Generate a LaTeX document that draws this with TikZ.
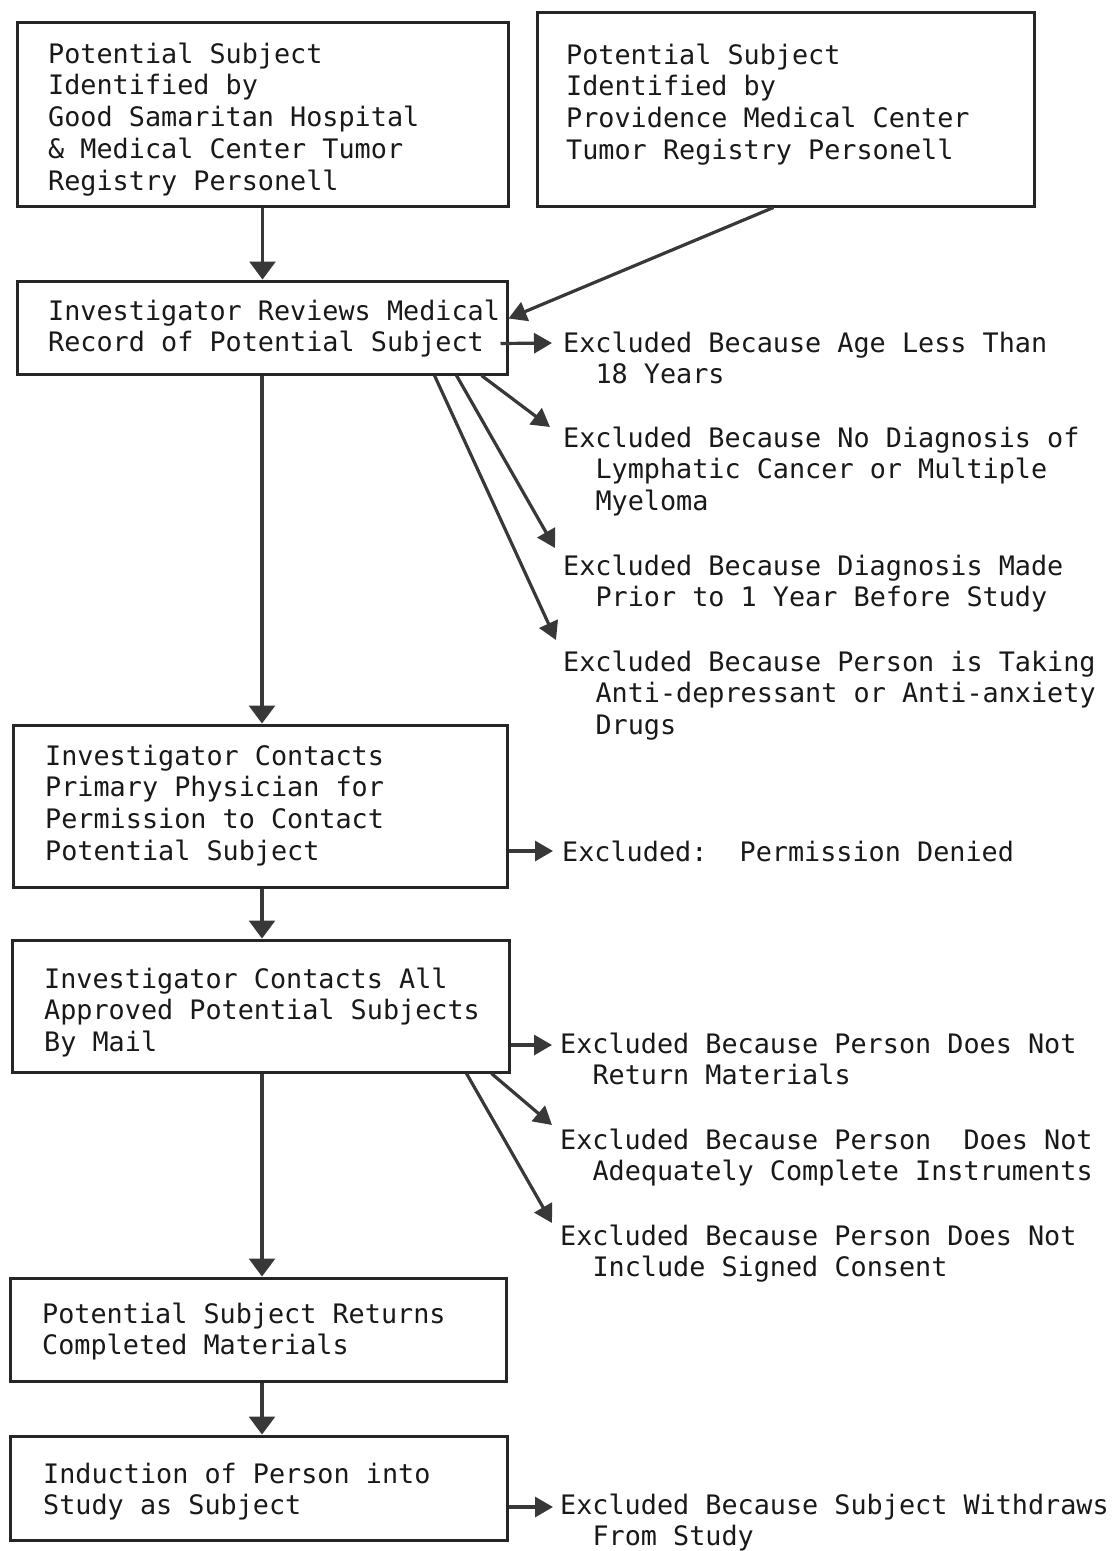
\documentclass[tikz,border=0pt]{standalone}
\usepackage{fontspec}
\setmainfont{DejaVu Sans Mono}
\usetikzlibrary{arrows.meta}
\newcommand\myind{\hspace*{32.3pt}}
\begin{document}
\begin{tikzpicture}[x=1pt,y=-1pt,
  box/.style={draw=black!85, line width=3pt, inner sep=0pt},
  lbl/.style={anchor=base west, inner sep=0pt, align=left, text=black!90,
    font=\fontsize{26.8}{31.8}\selectfont\frenchspacing},
  arr/.style={draw=black!78, line width=3.2pt, -{Triangle[length=18pt,width=20pt]}},
  varr/.style={draw=black!78, line width=3.2pt, -{Triangle[length=18pt,width=26pt]}},
]
\useasboundingbox[fill=white] (0,0) rectangle (1114,1551);

% boxes
\node[box, minimum width=491pt, minimum height=184pt] (A) at (262.5,114) {};
\node[box, minimum width=497pt, minimum height=194pt] (B) at (785.5,109) {};
\node[box, minimum width=490pt, minimum height=93pt]  (C) at (262,327.5) {};
\node[box, minimum width=494pt, minimum height=162pt] (D) at (260,806) {};
\node[box, minimum width=497pt, minimum height=132pt] (E) at (260.5,1006) {};
\node[box, minimum width=496pt, minimum height=103pt] (F) at (258,1329.5) {};
\node[box, minimum width=497pt, minimum height=104pt] (G) at (258.5,1488) {};

% box texts (anchored at baseline of last line)
\node[lbl] (At) at (48,190.2) {Potential Subject\\Identified by\\Good Samaritan Hospital\\\& Medical Center Tumor\\Registry Personell};
\node[lbl] (Bt) at (566,159.4) {Potential Subject\\Identified by\\Providence Medical Center\\Tumor Registry Personell};
\node[lbl] (Ct) at (48,351.8) {Investigator Reviews Medical\\Record of Potential Subject};
\node[lbl] (Dt) at (45,860.4) {Investigator Contacts\\Primary Physician for\\Permission to Contact\\Potential Subject};
\node[lbl] (Et) at (44,1051.6) {Investigator Contacts All\\Approved Potential Subjects\\By Mail};
\node[lbl] (Ft) at (42,1354.8) {Potential Subject Returns\\Completed Materials};
\node[lbl] (Gt) at (43,1514.8) {Induction of Person into\\Study as Subject};

% exclusion texts (anchored at baseline of last line)
\node[lbl] (X1) at (563,383.8) {Excluded Because Age Less Than\\\myind 18 Years};
\node[lbl] (X2) at (563,510.6) {Excluded Because No Diagnosis of\\\myind Lymphatic Cancer or Multiple\\\myind Myeloma};
\node[lbl] (X3) at (563,606.8) {Excluded Because Diagnosis Made\\\myind Prior to 1 Year Before Study};
\node[lbl] (X4) at (563,734.6) {Excluded Because Person is Taking\\\myind Anti-depressant or Anti-anxiety\\\myind Drugs};
\node[lbl] (X5) at (562,861) {Excluded:\ \ Permission Denied};
\node[lbl] (X6) at (560,1084.8) {Excluded Because Person Does Not\\\myind Return Materials};
\node[lbl] (X7) at (560,1180.8) {Excluded Because Person\ \ Does Not\\\myind Adequately Complete Instruments};
\node[lbl] (X8) at (560,1276.8) {Excluded Because Person Does Not\\\myind Include Signed Consent};
\node[lbl] (X9) at (560,1545.8) {Excluded Because Subject Withdraws\\\myind From Study};

% main flow
\draw[varr] (A.south) -- (A.south |- C.north);
\draw[arr] ([xshift=-12pt]B.south) -- ([yshift=9pt]C.east);
\draw[varr] (C.south) -- (C.south |- D.north);
\draw[varr] (D.south -| C.south) -- (C.south |- E.north);
\draw[varr] (E.south -| C.south) -- (C.south |- F.north);
\draw[varr] (F.south -| C.south) -- (C.south |- G.north);

% exclusions
\draw[arr] ([xshift=-8pt,yshift=-16pt]C.east) -- ([xshift=-11pt,yshift=40.8pt]X1.base west);
\draw[arr] ([xshift=-27pt]C.south east) -- ([xshift=-13pt,yshift=83.6pt]X2.base west);
\draw[arr] ([xshift=-52pt]C.south east) -- ([xshift=-8pt,yshift=58.8pt]X3.base west);
\draw[arr] ([xshift=-74pt]C.south east) -- ([xshift=-7pt,yshift=94.6pt]X4.base west);
\draw[arr] ([yshift=-45pt]D.east) -- ([xshift=-9pt,yshift=10pt]X5.base west);
\draw[arr] ([yshift=-39pt]E.east) -- ([xshift=-8pt,yshift=39.8pt]X6.base west);
\draw[arr] ([xshift=-19pt]E.south east) -- ([xshift=-8pt,yshift=55.8pt]X7.base west);
\draw[arr] ([xshift=-44pt]E.south east) -- ([xshift=-8pt,yshift=53.8pt]X8.base west);
\draw[arr] ([yshift=-19pt]G.east) -- ([xshift=-7pt,yshift=38.8pt]X9.base west);
\end{tikzpicture}
\end{document}
